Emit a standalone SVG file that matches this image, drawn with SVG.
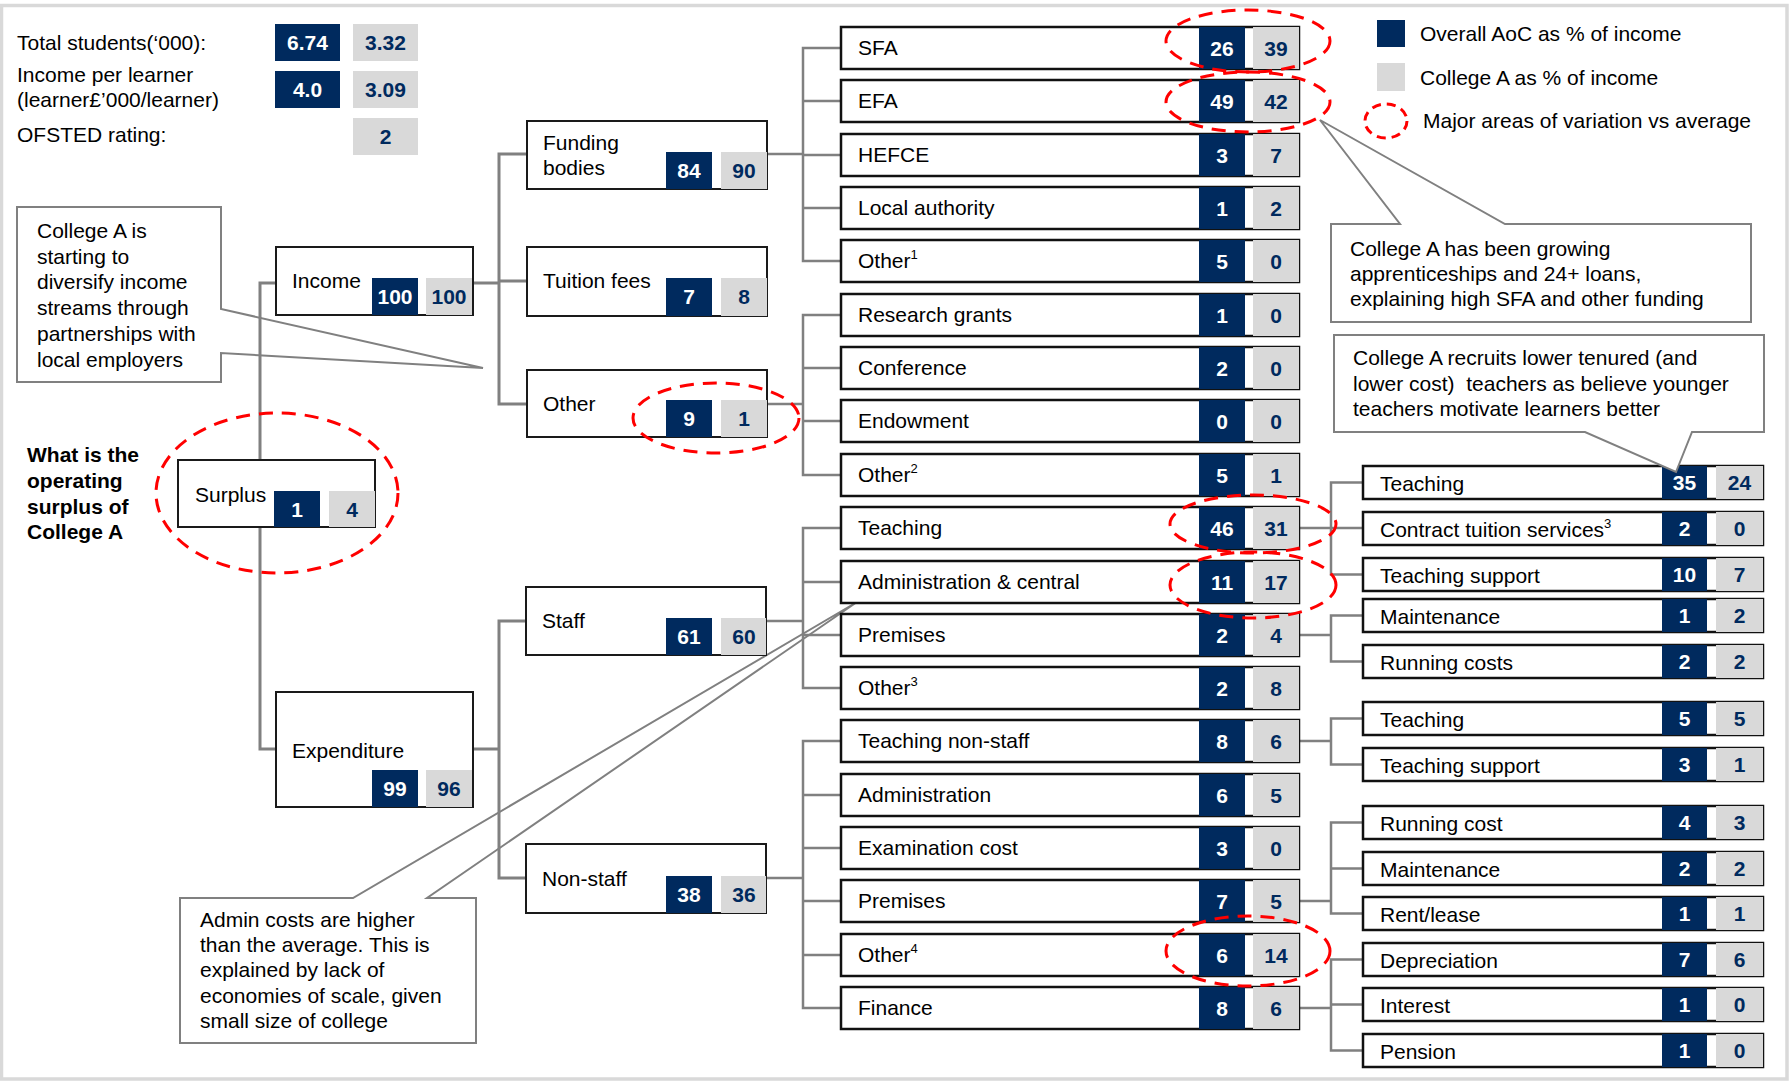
<svg xmlns="http://www.w3.org/2000/svg" width="1789" height="1081" viewBox="0 0 1789 1081">
<style>
.t{font-family:"Liberation Sans",Arial,sans-serif;font-size:21px;fill:#000}
.b{font-weight:bold}
.nw{font-family:"Liberation Sans",Arial,sans-serif;font-size:21px;font-weight:bold;fill:#fff;text-anchor:middle}
.ng{font-family:"Liberation Sans",Arial,sans-serif;font-size:21px;font-weight:bold;fill:#002A5E;text-anchor:middle}
.sup{font-size:13px}
.node{fill:#fff;stroke:#1a1a1a;stroke-width:2}
.row{fill:#fff;stroke:#111;stroke-width:2.5}
.navy{fill:#002A5E}
.lg{fill:#D9D9D9}
.conn{fill:none;stroke:#808080;stroke-width:3}
.conn2{fill:none;stroke:#808080;stroke-width:2.5}
.call{fill:#fff;stroke:#808080;stroke-width:2}
.ell{fill:none;stroke:#FF0000;stroke-width:3;stroke-dasharray:14 9}
</style>
<rect x="0" y="0" width="1789" height="1081" fill="#fff"/>
<rect x="1.5" y="5.5" width="1785.5" height="1073.5" fill="none" stroke="#D9D9D9" stroke-width="3.5"/>

<!-- header stats -->
<g id="stats">
<text class="t" x="17" y="50">Total students(‘000):</text>
<text class="t" x="17" y="82">Income per learner</text>
<text class="t" x="17" y="107">(learner£’000/learner)</text>
<text class="t" x="17" y="142">OFSTED rating:</text>
<rect class="navy" x="275" y="24" width="65" height="37"/>
<text class="nw" x="307.5" y="50">6.74</text>
<rect class="lg" x="353" y="24" width="65" height="37"/>
<text class="ng" x="385.5" y="50">3.32</text>
<rect class="navy" x="275" y="71" width="65" height="37"/>
<text class="nw" x="307.5" y="97">4.0</text>
<rect class="lg" x="353" y="71" width="65" height="37"/>
<text class="ng" x="385.5" y="97">3.09</text>
<rect class="lg" x="353" y="118" width="65" height="37"/>
<text class="ng" x="385.5" y="144">2</text>
</g>

<!-- legend -->
<g id="legend">
<rect class="navy" x="1377" y="20" width="28" height="27"/>
<text class="t" x="1420" y="41">Overall AoC as % of income</text>
<rect class="lg" x="1377" y="63" width="28" height="28"/>
<text class="t" x="1420" y="85">College A as % of income</text>
<ellipse class="ell" cx="1386" cy="121" rx="21" ry="17" style="stroke-dasharray:9 6"/>
<text class="t" x="1423" y="128">Major areas of variation vs average</text>
</g>

<g id="question">
<text class="t b" x="27" y="462">What is the</text>
<text class="t b" x="27" y="488">operating</text>
<text class="t b" x="27" y="514">surplus of</text>
<text class="t b" x="27" y="539">College A</text>
</g>

<!-- callouts -->
<g id="callout-diversify">
<polygon class="call" points="17,207 221,207 221,309 483,368 221,353 221,382 17,382"/>
<text class="t" x="37" y="238">College A is</text>
<text class="t" x="37" y="264">starting to</text>
<text class="t" x="37" y="289">diversify income</text>
<text class="t" x="37" y="315">streams through</text>
<text class="t" x="37" y="341">partnerships with</text>
<text class="t" x="37" y="367">local employers</text>
</g>
<g id="callout-sfa">
<polygon class="call" points="1331,224 1400,224 1320,120 1505,224 1751,224 1751,322 1331,322"/>
<text class="t" x="1350" y="256">College A has been growing</text>
<text class="t" x="1350" y="281">apprenticeships and 24+ loans,</text>
<text class="t" x="1350" y="306">explaining high SFA and other funding</text>
</g>
<g id="callout-admin">
<polygon class="call" points="180,898 353,898 857,602 427,898 476,898 476,1043 180,1043"/>
<text class="t" x="200" y="927">Admin costs are higher</text>
<text class="t" x="200" y="952">than the average. This is</text>
<text class="t" x="200" y="977">explained by lack of</text>
<text class="t" x="200" y="1003">economies of scale, given</text>
<text class="t" x="200" y="1028">small size of college</text>
</g>

<!-- connectors -->
<g id="connectors">
<path class="conn" d="M276,283 H260 V749 H276"/>
<path class="conn" d="M473,283 H499 M527,154 H499 V404 H527 M499,281 H527"/>
<path class="conn" d="M473,749 H499 M527,621 H499 V878 H527"/>
<path class="conn2" d="M767,154 H803 M841,48 H803 V261 H841 M803,101 H841 M803,155 H841 M803,208 H841"/>
<path class="conn2" d="M767,404 H803 M841,315 H803 V475 H841 M803,368 H841 M803,421 H841"/>
<path class="conn2" d="M766,621 H803 M841,528 H803 V688 H841 M803,582 H841 M803,635 H841"/>
<path class="conn2" d="M766,878 H803 M841,741 H803 V1008 H841 M803,795 H841 M803,848 H841 M803,901 H841 M803,955 H841"/>
<path class="conn2" d="M1299,528 H1363 M1363,482.5 H1331 V574.5 H1363"/>
<path class="conn2" d="M1299,635 H1331 M1363,615.5 H1331 V661.5 H1363"/>
<path class="conn2" d="M1299,741 H1331 M1363,718.5 H1331 V764.5 H1363"/>
<path class="conn2" d="M1299,901 H1331 M1363,822.5 H1331 V913.5 H1363 M1331,868.5 H1363"/>
<path class="conn2" d="M1299,1008 H1331 M1363,959.5 H1331 V1050.5 H1363 M1331,1004.5 H1363"/>
</g>

<!-- level 0 -->
<g id="surplus">
<rect class="node" x="178" y="460" width="197" height="67"/>
<text class="t" x="195" y="502">Surplus</text>
<rect class="navy" x="274" y="491" width="46" height="36"/>
<text class="nw" x="297" y="517">1</text>
<rect class="lg" x="329" y="491" width="46" height="36"/>
<text class="ng" x="352" y="517">4</text>
</g>
<g id="income">
<rect class="node" x="276" y="247" width="197" height="68"/>
<text class="t" x="292" y="288">Income</text>
<rect class="navy" x="372" y="278" width="46" height="37"/>
<text class="nw" x="395" y="304">100</text>
<rect class="lg" x="426" y="278" width="46" height="37"/>
<text class="ng" x="449" y="304">100</text>
</g>
<g id="expenditure">
<rect class="node" x="276" y="692" width="197" height="115"/>
<text class="t" x="292" y="758">Expenditure</text>
<rect class="navy" x="372" y="770" width="46" height="37"/>
<text class="nw" x="395" y="796">99</text>
<rect class="lg" x="426" y="770" width="46" height="37"/>
<text class="ng" x="449" y="796">96</text>
</g>

<!-- level 1 -->
<g id="funding-bodies">
<rect class="node" x="527" y="121" width="240" height="68"/>
<text class="t" x="543" y="150">Funding</text>
<text class="t" x="543" y="175">bodies</text>
<rect class="navy" x="666" y="152" width="46" height="37"/>
<text class="nw" x="689" y="178">84</text>
<rect class="lg" x="721" y="152" width="46" height="37"/>
<text class="ng" x="744" y="178">90</text>
</g>
<g id="tuition-fees">
<rect class="node" x="527" y="247" width="240" height="69"/>
<text class="t" x="543" y="288">Tuition fees</text>
<rect class="navy" x="666" y="278" width="46" height="38"/>
<text class="nw" x="689" y="304">7</text>
<rect class="lg" x="721" y="278" width="46" height="38"/>
<text class="ng" x="744" y="304">8</text>
</g>
<g id="other-income">
<rect class="node" x="527" y="370" width="240" height="67"/>
<text class="t" x="543" y="411">Other</text>
<rect class="navy" x="666" y="400" width="46" height="37"/>
<text class="nw" x="689" y="426">9</text>
<rect class="lg" x="721" y="400" width="46" height="37"/>
<text class="ng" x="744" y="426">1</text>
</g>
<g id="staff">
<rect class="node" x="526" y="587" width="240" height="68"/>
<text class="t" x="542" y="628">Staff</text>
<rect class="navy" x="666" y="618" width="46" height="37"/>
<text class="nw" x="689" y="644">61</text>
<rect class="lg" x="721" y="618" width="45" height="37"/>
<text class="ng" x="744" y="644">60</text>
</g>
<g id="non-staff">
<rect class="node" x="526" y="844" width="240" height="69"/>
<text class="t" x="542" y="886">Non-staff</text>
<rect class="navy" x="666" y="876" width="46" height="37"/>
<text class="nw" x="689" y="902">38</text>
<rect class="lg" x="721" y="876" width="45" height="37"/>
<text class="ng" x="744" y="902">36</text>
</g>

<!-- level 2 -->
<g id="sfa"><rect class="row" x="841" y="27" width="458" height="42"/><rect class="navy" x="1199" y="27" width="46" height="42"/><rect class="lg" x="1253" y="27" width="46" height="42"/><text class="t" x="858" y="55">SFA</text><text class="nw" x="1222" y="56">26</text><text class="ng" x="1276" y="56">39</text></g>
<g id="efa"><rect class="row" x="841" y="80" width="458" height="42"/><rect class="navy" x="1199" y="80" width="46" height="42"/><rect class="lg" x="1253" y="80" width="46" height="42"/><text class="t" x="858" y="108">EFA</text><text class="nw" x="1222" y="109">49</text><text class="ng" x="1276" y="109">42</text></g>
<g id="hefce"><rect class="row" x="841" y="134" width="458" height="42"/><rect class="navy" x="1199" y="134" width="46" height="42"/><rect class="lg" x="1253" y="134" width="46" height="42"/><text class="t" x="858" y="162">HEFCE</text><text class="nw" x="1222" y="163">3</text><text class="ng" x="1276" y="163">7</text></g>
<g id="local-authority"><rect class="row" x="841" y="187" width="458" height="42"/><rect class="navy" x="1199" y="187" width="46" height="42"/><rect class="lg" x="1253" y="187" width="46" height="42"/><text class="t" x="858" y="215">Local authority</text><text class="nw" x="1222" y="216">1</text><text class="ng" x="1276" y="216">2</text></g>
<g id="other1"><rect class="row" x="841" y="240" width="458" height="42"/><rect class="navy" x="1199" y="240" width="46" height="42"/><rect class="lg" x="1253" y="240" width="46" height="42"/><text class="t" x="858" y="268">Other<tspan class="sup" dy="-9">1</tspan></text><text class="nw" x="1222" y="269">5</text><text class="ng" x="1276" y="269">0</text></g>
<g id="research-grants"><rect class="row" x="841" y="294" width="458" height="42"/><rect class="navy" x="1199" y="294" width="46" height="42"/><rect class="lg" x="1253" y="294" width="46" height="42"/><text class="t" x="858" y="322">Research grants</text><text class="nw" x="1222" y="323">1</text><text class="ng" x="1276" y="323">0</text></g>
<g id="conference"><rect class="row" x="841" y="347" width="458" height="42"/><rect class="navy" x="1199" y="347" width="46" height="42"/><rect class="lg" x="1253" y="347" width="46" height="42"/><text class="t" x="858" y="375">Conference</text><text class="nw" x="1222" y="376">2</text><text class="ng" x="1276" y="376">0</text></g>
<g id="endowment"><rect class="row" x="841" y="400" width="458" height="42"/><rect class="navy" x="1199" y="400" width="46" height="42"/><rect class="lg" x="1253" y="400" width="46" height="42"/><text class="t" x="858" y="428">Endowment</text><text class="nw" x="1222" y="429">0</text><text class="ng" x="1276" y="429">0</text></g>
<g id="other2"><rect class="row" x="841" y="454" width="458" height="42"/><rect class="navy" x="1199" y="454" width="46" height="42"/><rect class="lg" x="1253" y="454" width="46" height="42"/><text class="t" x="858" y="482">Other<tspan class="sup" dy="-9">2</tspan></text><text class="nw" x="1222" y="483">5</text><text class="ng" x="1276" y="483">1</text></g>
<g id="teaching-staff"><rect class="row" x="841" y="507" width="458" height="42"/><rect class="navy" x="1199" y="507" width="46" height="42"/><rect class="lg" x="1253" y="507" width="46" height="42"/><text class="t" x="858" y="535">Teaching</text><text class="nw" x="1222" y="536">46</text><text class="ng" x="1276" y="536">31</text></g>
<g id="admin-central"><rect class="row" x="841" y="561" width="458" height="42"/><rect class="navy" x="1199" y="561" width="46" height="42"/><rect class="lg" x="1253" y="561" width="46" height="42"/><text class="t" x="858" y="589">Administration &amp; central</text><text class="nw" x="1222" y="590">11</text><text class="ng" x="1276" y="590">17</text></g>
<g id="premises-staff"><rect class="row" x="841" y="614" width="458" height="42"/><rect class="navy" x="1199" y="614" width="46" height="42"/><rect class="lg" x="1253" y="614" width="46" height="42"/><text class="t" x="858" y="642">Premises</text><text class="nw" x="1222" y="643">2</text><text class="ng" x="1276" y="643">4</text></g>
<g id="other3"><rect class="row" x="841" y="667" width="458" height="42"/><rect class="navy" x="1199" y="667" width="46" height="42"/><rect class="lg" x="1253" y="667" width="46" height="42"/><text class="t" x="858" y="695">Other<tspan class="sup" dy="-9">3</tspan></text><text class="nw" x="1222" y="696">2</text><text class="ng" x="1276" y="696">8</text></g>
<g id="teaching-non-staff"><rect class="row" x="841" y="720" width="458" height="42"/><rect class="navy" x="1199" y="720" width="46" height="42"/><rect class="lg" x="1253" y="720" width="46" height="42"/><text class="t" x="858" y="748">Teaching non-staff</text><text class="nw" x="1222" y="749">8</text><text class="ng" x="1276" y="749">6</text></g>
<g id="administration"><rect class="row" x="841" y="774" width="458" height="42"/><rect class="navy" x="1199" y="774" width="46" height="42"/><rect class="lg" x="1253" y="774" width="46" height="42"/><text class="t" x="858" y="802">Administration</text><text class="nw" x="1222" y="803">6</text><text class="ng" x="1276" y="803">5</text></g>
<g id="examination-cost"><rect class="row" x="841" y="827" width="458" height="42"/><rect class="navy" x="1199" y="827" width="46" height="42"/><rect class="lg" x="1253" y="827" width="46" height="42"/><text class="t" x="858" y="855">Examination cost</text><text class="nw" x="1222" y="856">3</text><text class="ng" x="1276" y="856">0</text></g>
<g id="premises-non-staff"><rect class="row" x="841" y="880" width="458" height="42"/><rect class="navy" x="1199" y="880" width="46" height="42"/><rect class="lg" x="1253" y="880" width="46" height="42"/><text class="t" x="858" y="908">Premises</text><text class="nw" x="1222" y="909">7</text><text class="ng" x="1276" y="909">5</text></g>
<g id="other4"><rect class="row" x="841" y="934" width="458" height="42"/><rect class="navy" x="1199" y="934" width="46" height="42"/><rect class="lg" x="1253" y="934" width="46" height="42"/><text class="t" x="858" y="962">Other<tspan class="sup" dy="-9">4</tspan></text><text class="nw" x="1222" y="963">6</text><text class="ng" x="1276" y="963">14</text></g>
<g id="finance"><rect class="row" x="841" y="987" width="458" height="42"/><rect class="navy" x="1199" y="987" width="46" height="42"/><rect class="lg" x="1253" y="987" width="46" height="42"/><text class="t" x="858" y="1015">Finance</text><text class="nw" x="1222" y="1016">8</text><text class="ng" x="1276" y="1016">6</text></g>

<!-- level 3 -->
<g id="l3-teaching"><rect class="row" x="1363" y="466" width="400" height="33"/><rect class="navy" x="1662" y="466" width="45" height="33"/><rect class="lg" x="1716" y="466" width="47" height="33"/><text class="t" x="1380" y="491">Teaching</text><text class="nw" x="1684.5" y="490">35</text><text class="ng" x="1739.5" y="490">24</text></g>
<g id="l3-contract-tuition"><rect class="row" x="1363" y="512" width="400" height="33"/><rect class="navy" x="1662" y="512" width="45" height="33"/><rect class="lg" x="1716" y="512" width="47" height="33"/><text class="t" x="1380" y="537">Contract tuition services<tspan class="sup" dy="-9">3</tspan></text><text class="nw" x="1684.5" y="536">2</text><text class="ng" x="1739.5" y="536">0</text></g>
<g id="l3-teaching-support"><rect class="row" x="1363" y="558" width="400" height="33"/><rect class="navy" x="1662" y="558" width="45" height="33"/><rect class="lg" x="1716" y="558" width="47" height="33"/><text class="t" x="1380" y="583">Teaching support</text><text class="nw" x="1684.5" y="582">10</text><text class="ng" x="1739.5" y="582">7</text></g>
<g id="l3-maintenance"><rect class="row" x="1363" y="599" width="400" height="33"/><rect class="navy" x="1662" y="599" width="45" height="33"/><rect class="lg" x="1716" y="599" width="47" height="33"/><text class="t" x="1380" y="624">Maintenance</text><text class="nw" x="1684.5" y="623">1</text><text class="ng" x="1739.5" y="623">2</text></g>
<g id="l3-running-costs"><rect class="row" x="1363" y="645" width="400" height="33"/><rect class="navy" x="1662" y="645" width="45" height="33"/><rect class="lg" x="1716" y="645" width="47" height="33"/><text class="t" x="1380" y="670">Running costs</text><text class="nw" x="1684.5" y="669">2</text><text class="ng" x="1739.5" y="669">2</text></g>
<g id="l3-teaching-ns"><rect class="row" x="1363" y="702" width="400" height="33"/><rect class="navy" x="1662" y="702" width="45" height="33"/><rect class="lg" x="1716" y="702" width="47" height="33"/><text class="t" x="1380" y="727">Teaching</text><text class="nw" x="1684.5" y="726">5</text><text class="ng" x="1739.5" y="726">5</text></g>
<g id="l3-teaching-support-ns"><rect class="row" x="1363" y="748" width="400" height="33"/><rect class="navy" x="1662" y="748" width="45" height="33"/><rect class="lg" x="1716" y="748" width="47" height="33"/><text class="t" x="1380" y="773">Teaching support</text><text class="nw" x="1684.5" y="772">3</text><text class="ng" x="1739.5" y="772">1</text></g>
<g id="l3-running-cost"><rect class="row" x="1363" y="806" width="400" height="33"/><rect class="navy" x="1662" y="806" width="45" height="33"/><rect class="lg" x="1716" y="806" width="47" height="33"/><text class="t" x="1380" y="831">Running cost</text><text class="nw" x="1684.5" y="830">4</text><text class="ng" x="1739.5" y="830">3</text></g>
<g id="l3-maintenance-ns"><rect class="row" x="1363" y="852" width="400" height="33"/><rect class="navy" x="1662" y="852" width="45" height="33"/><rect class="lg" x="1716" y="852" width="47" height="33"/><text class="t" x="1380" y="877">Maintenance</text><text class="nw" x="1684.5" y="876">2</text><text class="ng" x="1739.5" y="876">2</text></g>
<g id="l3-rent-lease"><rect class="row" x="1363" y="897" width="400" height="33"/><rect class="navy" x="1662" y="897" width="45" height="33"/><rect class="lg" x="1716" y="897" width="47" height="33"/><text class="t" x="1380" y="922">Rent/lease</text><text class="nw" x="1684.5" y="921">1</text><text class="ng" x="1739.5" y="921">1</text></g>
<g id="l3-depreciation"><rect class="row" x="1363" y="943" width="400" height="33"/><rect class="navy" x="1662" y="943" width="45" height="33"/><rect class="lg" x="1716" y="943" width="47" height="33"/><text class="t" x="1380" y="968">Depreciation</text><text class="nw" x="1684.5" y="967">7</text><text class="ng" x="1739.5" y="967">6</text></g>
<g id="l3-interest"><rect class="row" x="1363" y="988" width="400" height="33"/><rect class="navy" x="1662" y="988" width="45" height="33"/><rect class="lg" x="1716" y="988" width="47" height="33"/><text class="t" x="1380" y="1013">Interest</text><text class="nw" x="1684.5" y="1012">1</text><text class="ng" x="1739.5" y="1012">0</text></g>
<g id="l3-pension"><rect class="row" x="1363" y="1034" width="400" height="33"/><rect class="navy" x="1662" y="1034" width="45" height="33"/><rect class="lg" x="1716" y="1034" width="47" height="33"/><text class="t" x="1380" y="1059">Pension</text><text class="nw" x="1684.5" y="1058">1</text><text class="ng" x="1739.5" y="1058">0</text></g>

<g id="callout-teaching">
<polygon class="call" points="1334,335 1764,335 1764,432 1692,432 1676,472 1585,432 1334,432"/>
<text class="t" x="1353" y="365">College A recruits lower tenured (and</text>
<text class="t" x="1353" y="391">lower cost)&#160; teachers as believe younger</text>
<text class="t" x="1353" y="416">teachers motivate learners better</text>
</g>

<!-- highlight ellipses -->
<g id="highlights">
<ellipse class="ell" cx="277" cy="493" rx="121" ry="80"/>
<ellipse class="ell" cx="716" cy="418" rx="83" ry="35"/>
<ellipse class="ell" cx="1248" cy="41" rx="82" ry="31"/>
<ellipse class="ell" cx="1248" cy="102" rx="82" ry="30"/>
<ellipse class="ell" cx="1253" cy="524" rx="83" ry="29"/>
<ellipse class="ell" cx="1253" cy="585" rx="83" ry="33"/>
<ellipse class="ell" cx="1248" cy="951" rx="82" ry="35"/>
</g>
</svg>
